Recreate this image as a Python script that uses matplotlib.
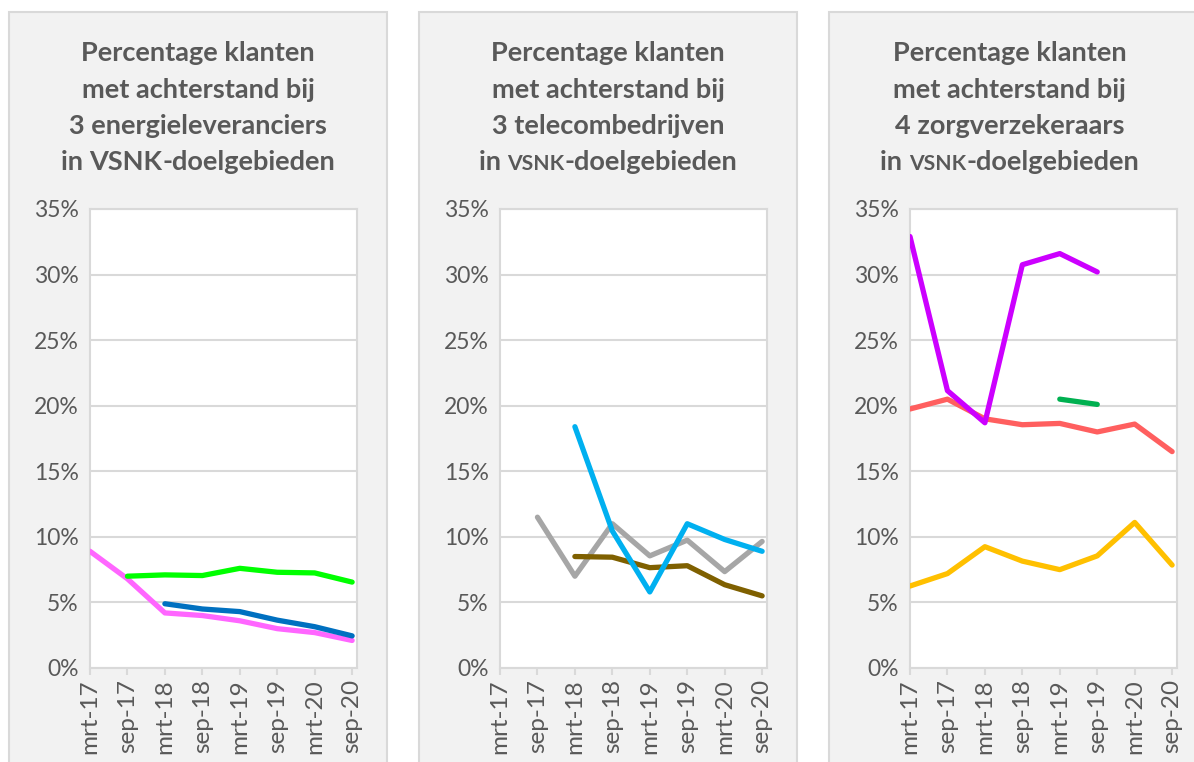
#!/usr/bin/env python3
"""Three small line charts: klanten met achterstand in VSNK-doelgebieden."""

import matplotlib as mpl

mpl.use("Agg")
import matplotlib.pyplot as plt
import numpy as np
from matplotlib.patches import Rectangle

nan = np.nan

periods = ["mrt-17", "sep-17", "mrt-18", "sep-18", "mrt-19", "sep-19", "mrt-20", "sep-20"]
y_ticks = [0, 5, 10, 15, 20, 25, 30, 35]

# energieleveranciers
energy_pink = [8.9, 6.8, 4.2, 4.0, 3.6, 3.0, 2.7, 2.1]
energy_green = [nan, 7.0, 7.1, 7.05, 7.6, 7.3, 7.25, 6.55]
energy_blue = [nan, nan, 4.9, 4.5, 4.3, 3.65, 3.15, 2.45]

# telecombedrijven
telecom_gray = [nan, 11.5, 7.0, 11.0, 8.55, 9.75, 7.35, 9.65]
telecom_brown = [nan, nan, 8.5, 8.45, 7.65, 7.8, 6.35, 5.5]
telecom_blue = [nan, nan, 18.4, 10.45, 5.8, 11.0, 9.8, 8.9]

# zorgverzekeraars
care_yellow = [6.25, 7.2, 9.25, 8.15, 7.5, 8.55, 11.1, 7.85]
care_red = [19.75, 20.5, 19.0, 18.55, 18.65, 18.0, 18.6, 16.5]
care_green = [nan, nan, nan, nan, 20.5, 20.1, nan, nan]
care_purple = [32.9, 21.15, 18.7, 30.75, 31.6, 30.2, nan, nan]

TEXT = "#595959"
GRID = "#D9D9D9"
FONT = "Lato"
W, H = 1194, 762

panels = [
    {
        "box": (9, 387),
        "axes": (90, 357),
        "lines": ["Percentage klanten", "met achterstand bij", "3 energieleveranciers"],
        "caps": False,
        "series": [(energy_pink, "#FF66FF"), (energy_green, "#00FF00"), (energy_blue, "#0070C0")],
    },
    {
        "box": (419, 797),
        "axes": (500, 767),
        "lines": ["Percentage klanten", "met achterstand bij", "3 telecombedrijven"],
        "caps": True,
        "series": [(telecom_gray, "#A6A6A6"), (telecom_brown, "#7F6000"), (telecom_blue, "#00B0F0")],
    },
    {
        "box": (829, 1200),
        "axes": (910, 1177),
        "lines": ["Percentage klanten", "met achterstand bij", "4 zorgverzekeraars"],
        "caps": True,
        "series": [
            (care_yellow, "#FFC000"),
            (care_red, "#FF5F5F"),
            (care_green, "#00B050"),
            (care_purple, "#CC00FF"),
        ],
    },
]

fig = plt.figure(figsize=(W / 100, H / 100), dpi=100)
fig.patch.set_facecolor("white")
renderer = fig.canvas.get_renderer()

TITLE_SIZE = 19.5
line_y = [61, 98, 134, 170]


def text_width(s, size):
    t = fig.text(0, 0, s, fontsize=size, fontweight="bold", family=FONT)
    w = t.get_window_extent(renderer).width
    t.remove()
    return w


for p in panels:
    x0, x1 = p["box"]
    fig.patches.append(
        Rectangle((x0 / W, -0.05), (x1 - x0) / W, (H - 12) / H + 0.05, transform=fig.transFigure,
                  facecolor="#F2F2F2", edgecolor=GRID, linewidth=1.5, zorder=-5)
    )
    cx = (x0 + x1) / 2 if x1 < W else (x0 + 1190) / 2
    for i, s in enumerate(p["lines"]):
        fig.text(cx / W, 1 - line_y[i] / H, s, ha="center", va="baseline",
                 fontsize=TITLE_SIZE, fontweight="bold", color=TEXT, family=FONT)
    # last title line, with VSNK in small caps for two panels
    small = TITLE_SIZE * 0.78 if p["caps"] else TITLE_SIZE
    pieces = [("in ", TITLE_SIZE), ("VSNK", small), ("-doelgebieden", TITLE_SIZE)]
    xw = text_width("x", TITLE_SIZE)
    widths = []
    for s, size in pieces:
        if s.endswith(" "):
            widths.append(text_width(s.strip() + " x", size) - xw)
        else:
            widths.append(text_width(s, size))
    start = cx - sum(widths) / 2
    for (s, size), w in zip(pieces, widths):
        fig.text(start / W, 1 - line_y[3] / H, s, ha="left", va="baseline",
                 fontsize=size, fontweight="bold", color=TEXT, family=FONT)
        start += w

    a0, a1 = p["axes"]
    ax = fig.add_axes([a0 / W, 1 - 668 / H, (a1 - a0) / W, (668 - 209) / H])
    ax.set_facecolor("white")
    for values, color in p["series"]:
        ax.plot(range(len(periods)), values, color=color, linewidth=3.8,
                solid_capstyle="round", solid_joinstyle="round", zorder=3)
    ax.set_xlim(0, 7.13)
    ax.set_ylim(0, 35)
    ax.set_yticks(y_ticks)
    ax.set_yticklabels([f"{v}%" for v in y_ticks])
    ax.set_xticks(range(len(periods)))
    ax.set_xticklabels(periods, rotation=90)
    ax.grid(axis="y", color=GRID, linewidth=1.5, zorder=1)
    for spine in ax.spines.values():
        spine.set_color(GRID)
        spine.set_linewidth(1.5)
    ax.tick_params(axis="y", length=0, pad=8, labelsize=16.5, labelcolor=TEXT)
    ax.tick_params(axis="x", length=5, width=1.5, color=GRID, pad=3,
                   labelsize=17.5, labelcolor=TEXT)
    for lab in ax.get_xticklabels() + ax.get_yticklabels():
        lab.set_family(FONT)

fig.savefig("out.png", dpi=100)
